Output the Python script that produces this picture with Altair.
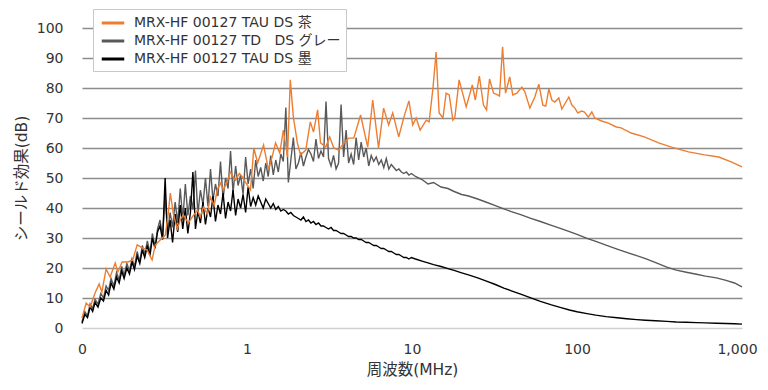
import altair as alt
import pandas as pd

# ---- data ----
freq_dense = [
    0.100, 0.104, 0.108, 0.112, 0.116, 0.120, 0.125, 0.130, 0.135, 0.140,
    0.145, 0.150, 0.156, 0.162, 0.168, 0.174, 0.180, 0.187, 0.194, 0.201,
    0.208, 0.216, 0.224, 0.232, 0.240, 0.249, 0.258, 0.267, 0.277, 0.287,
    0.297, 0.308, 0.319, 0.330, 0.342, 0.354, 0.367, 0.380, 0.394, 0.408,
    0.423, 0.438, 0.454, 0.470, 0.487, 0.504, 0.522, 0.541, 0.560, 0.580,
    0.601, 0.622, 0.644, 0.667, 0.691, 0.716, 0.741, 0.768, 0.795, 0.823,
    0.853, 0.883, 0.915, 0.947, 0.981, 1.016, 1.052, 1.090, 1.129, 1.169,
    1.211, 1.254, 1.299, 1.345, 1.393, 1.443, 1.494, 1.548, 1.603, 1.660,
    1.719, 1.781, 1.844, 1.910, 1.978, 2.049, 2.122, 2.198, 2.276, 2.357,
    2.441, 2.528, 2.618, 2.712, 2.808, 2.909, 3.012, 3.120, 3.231, 3.346,
    3.466, 3.589, 3.717, 3.850, 3.987, 4.129, 4.277, 4.429, 4.587, 4.751,
    4.920, 5.096, 5.277, 5.466, 5.661, 5.862, 6.071, 6.288, 6.512, 6.744,
    6.985, 7.234, 7.492, 7.759, 8.036, 8.323, 8.619, 8.927, 9.245, 9.575,
    9.916,
]
gray_dense = [
    2.0, 5.5, 4.0, 8.0, 6.5, 9.5, 8.0, 11.5, 10.0, 14.0,
    12.5, 16.5, 14.0, 18.5, 16.0, 20.5, 17.5, 21.5, 19.0, 23.0,
    20.5, 25.5, 22.0, 27.5, 24.5, 29.0, 25.0, 31.5, 27.0, 33.0,
    36.0, 30.5, 44.0, 32.0, 38.5, 33.5, 42.0, 35.0, 46.5, 36.0,
    48.0, 37.5, 44.0, 39.5, 52.5, 38.0, 46.0, 41.0, 50.0, 40.5,
    53.0, 42.5, 48.0, 44.0, 55.5, 43.0, 50.0, 46.5, 59.0, 45.0,
    54.0, 47.5, 51.0, 44.5, 57.0, 48.0, 53.0, 46.5, 56.0, 50.5,
    53.5, 49.0, 55.0, 50.5, 57.5, 51.0, 56.0, 52.0, 58.0, 55.5,
    73.5, 48.5, 56.0, 63.5, 53.0, 55.0, 58.5, 54.0, 57.0, 59.5,
    58.0, 55.5, 63.0, 56.5, 59.0, 57.0, 75.5, 56.5, 54.0, 57.5,
    53.0, 55.0, 74.5, 57.0, 66.0, 55.0, 58.0, 54.5, 63.5, 56.0,
    62.0, 57.0, 60.0, 54.0, 57.5, 55.5, 57.0, 54.5, 56.0, 53.5,
    56.5, 53.0, 54.5, 53.5, 52.5, 53.0, 52.0, 51.5, 52.0, 51.0,
    51.5,
]
black_dense = [
    1.5, 4.5, 3.5, 7.0, 5.5, 8.5, 7.0, 10.0, 9.0, 12.5,
    11.0, 15.0, 13.0, 17.0, 15.0, 19.0, 16.5, 20.0, 18.0, 22.0,
    19.5, 24.0, 21.5, 26.0, 23.5, 27.5, 24.0, 30.0, 26.5, 32.0,
    34.0, 29.5, 50.0, 30.0, 36.0, 28.5, 38.0, 32.0, 41.0, 33.0,
    40.0, 31.5, 38.5, 52.0, 33.0, 39.0, 35.0, 42.0, 34.5, 40.0,
    37.0, 44.0, 35.5, 41.0, 38.0, 45.0, 36.5, 42.0, 39.0, 46.0,
    37.5, 43.0, 40.0, 44.5, 38.5, 47.0, 40.5, 43.5, 41.0, 44.0,
    42.0, 40.0, 43.0, 41.5, 40.0, 41.5, 39.5, 40.5, 39.0, 39.5,
    39.0, 38.0, 38.5, 37.5, 37.0, 36.5, 36.0, 37.0, 35.5, 36.0,
    35.0, 35.5, 34.5, 35.0, 34.0, 34.0, 33.5, 33.0, 33.5, 32.5,
    32.5, 32.0, 31.5, 31.5, 31.0, 30.5, 30.5, 30.0, 30.0, 29.5,
    29.5, 29.0, 28.5, 28.5, 28.0, 27.5, 27.5, 27.0, 26.5, 26.5,
    26.0, 25.5, 25.5, 25.0, 24.5, 24.5, 24.0, 23.5, 23.5, 23.0,
    23.5,
]
freq_tail = [
    10.5, 11.5, 12.5, 13.5, 15, 16.5, 18, 20, 22, 25,
    28, 32, 36, 40, 46, 52, 60, 70, 80, 90,
    100, 115, 130, 150, 175, 200, 230, 260, 300, 350,
    400, 460, 530, 600, 700, 800, 900, 1000,
]
gray_tail = [
    50.5, 49.5, 48.0, 48.5, 47.0, 46.5, 45.5, 44.5, 44.0, 43.0,
    42.0, 40.8, 39.7, 38.8, 37.7, 36.6, 35.5, 34.2, 33.1, 32.1,
    31.2, 29.9, 28.9, 27.6, 26.3, 25.2, 24.1, 23.1, 21.8, 20.3,
    19.3, 18.6, 17.9, 17.3, 16.7, 15.9, 15.0, 13.7,
]
black_tail = [
    23.0, 22.3, 21.7, 21.1, 20.5, 19.8, 19.2, 18.4, 17.7, 16.7,
    15.7, 14.5, 13.3, 12.4, 11.2, 10.1, 8.9, 7.7, 6.8, 6.0,
    5.4, 4.8, 4.3, 3.8, 3.4, 3.1, 2.8, 2.6, 2.4, 2.2,
    2.0, 1.9, 1.8, 1.7, 1.6, 1.5, 1.4, 1.3,
]
orange_freq = [
    0.100, 0.106, 0.112, 0.120, 0.127, 0.132, 0.140, 0.148, 0.159, 0.165,
    0.175, 0.190, 0.203, 0.216, 0.232, 0.248, 0.266, 0.278, 0.298, 0.320,
    0.333, 0.343, 0.358, 0.378, 0.394, 0.411, 0.441, 0.466, 0.501, 0.521,
    0.544, 0.575, 0.599, 0.633, 0.661, 0.689, 0.719, 0.760, 0.792, 0.851,
    0.900, 0.940, 0.993, 1.05, 1.10, 1.16, 1.26, 1.35, 1.43, 1.49,
    1.58, 1.66, 1.76, 1.83, 1.91, 2.02, 2.11, 2.27, 2.42, 2.53,
    2.68, 2.79, 3.00, 3.17, 3.36, 3.60, 3.86, 4.14, 4.44, 4.88,
    5.39, 5.78, 6.27, 6.73, 7.22, 7.64, 8.31, 8.93, 9.58, 10.1,
    10.6, 11.2, 12.2, 12.7, 13.4, 14.0, 14.6, 15.4, 16.1, 16.8,
    17.7, 18.2, 19.3, 21.3, 23.2, 24.2, 25.6, 27.1, 28.3, 29.5,
    31.2, 33.0, 33.9, 35.4, 36.9, 39.1, 40.8, 43.2, 46.3, 48.3,
    51.8, 55.5, 58.7, 62.1, 64.7, 67.5, 70.4, 73.4, 77.6, 80.9,
    89.2, 93.1, 97.1, 101, 107, 111, 117, 123, 128, 141,
    155, 173, 185, 213, 256, 312, 374, 474, 594, 723,
    867, 1000,
]
orange_db = [
    3.3, 8.3, 7.0, 11.7, 14.7, 12.0, 19.7, 17.0, 21.7, 18.7,
    22.0, 22.0, 22.7, 27.7, 26.7, 26.0, 22.7, 27.7, 29.3, 31.0,
    38.0, 45.0, 38.0, 33.0, 36.0, 37.7, 35.0, 37.0, 39.3, 37.0,
    40.3, 38.0, 43.7, 41.0, 46.0, 48.3, 46.0, 49.0, 52.0, 49.3,
    51.5, 50.3, 48.0, 46.0, 60.0, 55.0, 61.0, 52.7, 57.7, 61.7,
    58.3, 66.0, 57.0, 82.7, 70.3, 61.7, 57.7, 59.3, 68.7, 65.3,
    72.7, 61.7, 60.3, 63.7, 60.0, 59.3, 61.7, 63.3, 63.3, 71.0,
    60.3, 76.0, 60.0, 73.3, 67.7, 71.7, 63.7, 70.3, 75.7, 67.7,
    70.0, 66.0, 69.3, 68.7, 80.0, 92.0, 71.7, 70.0, 78.3, 77.7,
    69.3, 70.3, 82.7, 73.7, 81.0, 76.0, 84.0, 74.3, 72.7, 83.0,
    78.3, 77.7, 77.3, 93.7, 78.3, 83.7, 77.7, 78.3, 80.3, 78.7,
    73.3, 77.0, 81.3, 74.3, 74.0, 79.7, 76.0, 75.3, 76.7, 73.0,
    77.0, 74.3, 73.3, 71.7, 72.3, 72.0, 70.3, 72.0, 70.0, 69.0,
    68.3, 67.0, 66.7, 65.0, 63.7, 61.7, 60.3, 58.7, 57.7, 57.0,
    55.3, 53.7,
]

series_names = [
    "MRX-HF 00127 TAU DS 茶",
    "MRX-HF 00127 TD\u00a0\u00a0\u00a0DS グレー",
    "MRX-HF 00127 TAU DS 墨",
]
series_colors = ["#ED7D31", "#595959", "#000000"]
x_ticks = [0.1, 1, 10, 100, 1000]
y_ticks = [0, 10, 20, 30, 40, 50, 60, 70, 80, 90, 100]

# ---- build the long table ----
rows = []
for f, v in zip(orange_freq, orange_db):
    rows.append({"series": series_names[0], "freq": f, "db": v})
for f, v in zip(freq_dense + freq_tail, gray_dense + gray_tail):
    rows.append({"series": series_names[1], "freq": f, "db": v})
for f, v in zip(freq_dense + freq_tail, black_dense + black_tail):
    rows.append({"series": series_names[2], "freq": f, "db": v})
df = pd.DataFrame(rows)

FONT = "'DejaVu Sans', 'Noto Sans CJK JP', sans-serif"
TXT = "#333333"

color_scale = alt.Scale(domain=series_names, range=series_colors)
legend = alt.Legend(
    title=None,
    orient="none",
    legendX=11,
    legendY=-19,
    symbolType="M-1.5,0L1.5,0",
    symbolSize=225,
    symbolStrokeWidth=3,
    symbolOffset=6,
    labelOffset=12,
    labelFont=FONT,
    labelFontSize=14,
    labelColor=TXT,
    labelLimit=400,
    rowPadding=2,
    padding=5,
    strokeColor="#c8c8c8",
    fillColor="white",
)

x_enc = alt.X(
    "freq:Q",
    scale=alt.Scale(type="log", domain=[0.1, 1000]),
    axis=alt.Axis(
        values=x_ticks,
        labelExpr="datum.value < 1 ? '0' : format(datum.value, ',')",
        labelFlush=False,
        labelOffset={"condition": {"test": "datum.value >= 1000", "value": -5}, "value": 0},
        title="周波数(MHz)",
        grid=False,
        domain=False,
        ticks=False,
        labelPadding=14,
        titlePadding=6,
        labelFont=FONT,
        labelFontSize=14,
        labelColor=TXT,
        titleFont=FONT,
        titleFontSize=15.5,
        titleFontWeight="normal",
        titleColor=TXT,
    ),
)
y_enc = alt.Y(
    "db:Q",
    scale=alt.Scale(domain=[0, 100], nice=False),
    axis=alt.Axis(
        values=y_ticks,
        title="シールド効果(dB)",
        grid=True,
        gridColor={"condition": {"test": "datum.value === 0", "value": "#d0d0d0"}, "value": "#8c8c8c"},
        gridWidth=1.3,
        domain=False,
        ticks=False,
        labelPadding=19,
        titlePadding=7,
        labelFont=FONT,
        labelFontSize=14,
        labelColor=TXT,
        titleFont=FONT,
        titleFontSize=15.5,
        titleFontWeight="normal",
        titleColor=TXT,
    ),
)

def layer_for(name):
    return (
        alt.Chart(df)
        .transform_filter(alt.datum.series == name)
        .mark_line(strokeWidth=1.4)
        .encode(
            x=x_enc,
            y=y_enc,
            color=alt.Color("series:N", scale=color_scale, legend=legend),
            order=alt.Order("freq:Q"),
        )
    )

chart = (
    alt.layer(layer_for(series_names[1]), layer_for(series_names[2]), layer_for(series_names[0]))
    .properties(
        width=660,
        height=300,
        autosize=alt.AutoSizeParams(type="none"),
        padding={"left": 74, "top": 20, "right": 18, "bottom": 54},
    )
    .configure_view(stroke=None)
)

chart.save("out.html", embed_options={"renderer": "svg", "actions": False})
